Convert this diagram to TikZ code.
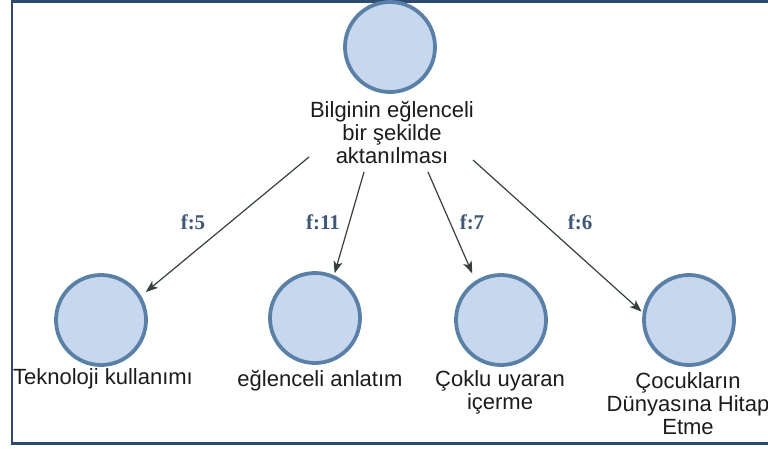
\documentclass[tikz,border=0pt]{standalone}
\usepackage{fontspec}
\setmainfont{Liberation Sans}
\newfontfamily\freqfont{Liberation Serif}
\usetikzlibrary{arrows.meta,calc}

\definecolor{framecol}{HTML}{2E4A6E}
\definecolor{discfill}{HTML}{C6D7EE}
\definecolor{discedge}{HTML}{5B80A8}
\definecolor{arrowcol}{HTML}{37403F}
\definecolor{freqcol}{HTML}{3F5878}
\definecolor{textcol}{HTML}{1C1C1C}

\tikzset{
  disc/.style={circle, inner sep=0pt, minimum size=90pt, line width=3.8pt,
    draw=discedge, fill=discfill},
  caption/.style={anchor=north, inner sep=0pt, align=center, text=textcol,
    font=\fontsize{22}{23}\selectfont},
  link/.style={draw=arrowcol, line width=1.2pt,
    -{Stealth[length=12pt,width=9pt,inset=3pt]}},
  freq/.style={inner sep=0pt, text=freqcol,
    font=\freqfont\bfseries\fontsize{21}{23}\selectfont}
}

\begin{document}
\begin{tikzpicture}[x=1pt, y=-1pt]
  \clip (0,0) rectangle (768,448);
  \fill[white] (0,0) rectangle (768,448);

  % outer frame (its right side lies past the page edge)
  \draw[framecol, line width=2.4pt] (12,1.5) rectangle (790,443.5);

  % central theme
  \node[disc] (top) at (390,47) {};
  \node[caption] (toptxt) at (392,101) {Bilginin eğlenceli\\bir şekilde\\aktanılması};

  % sub-themes
  \node[disc] (c1) at (101,320) {};
  \node[disc] (c2) at (315,318) {};
  \node[disc] (c3) at (501,320) {};
  \node[disc] (c4) at (689,320) {};

  \node[caption] (t1) at (103,368) {Teknoloji kullanımı};
  \node[caption] (t2) at (320,370) {eğlenceli anlatım};
  \node[caption] (t3) at (500,370) {Çoklu uyaran\\içerme};
  \node[caption] (t4) at (688,372) {Çocukların\\Dünyasına Hitap\\Etme};

  % arrow starts around the central caption
  \coordinate (s1) at ($(toptxt.north)+(-83,56)$);
  \coordinate (s2) at ($(toptxt.north)+(-28,71)$);
  \coordinate (s3) at ($(toptxt.north)+(36,71)$);
  \coordinate (s4) at ($(toptxt.north)+(81,59)$);

  \draw[link, shorten >=6pt] (s1) -- (c1.31);
  \draw[link, shorten >=2pt] (s2) -- (c2.66);
  \draw[link, shorten >=8pt] (s3) -- (c3.123);
  \draw[link, shorten >=1.5pt] (s4) -- (c4.171);

  % frequencies
  \node[freq] (f1) at (193,222) {f:5};
  \node[freq] (f2) at (323,222) {f:11};
  \node[freq] (f3) at (472,222) {f:7};
  \node[freq] (f4) at (580,222) {f:6};
\end{tikzpicture}
\end{document}
